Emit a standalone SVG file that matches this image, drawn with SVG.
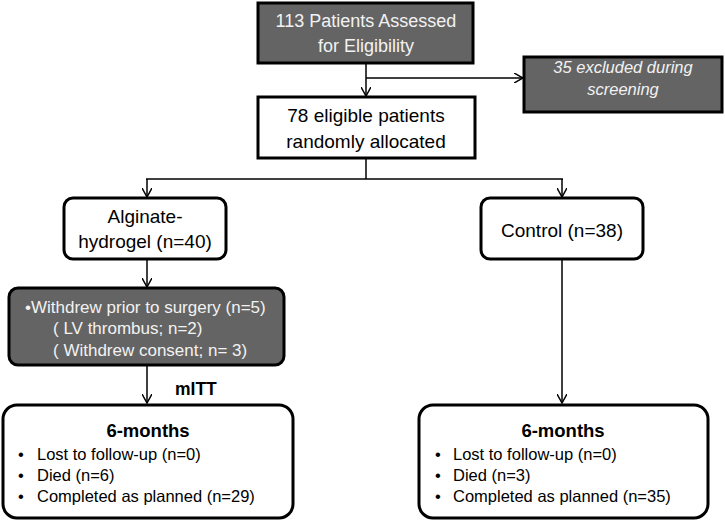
<svg xmlns="http://www.w3.org/2000/svg" width="725" height="522" viewBox="0 0 725 522">
<style>
text{font-family:"Liberation Sans",Arial,sans-serif;fill:#000}
.dark{fill:#646464;stroke:#000;stroke-width:3}
.light{fill:#fff;stroke:#000;stroke-width:3}
.wt{fill:#f2f2f2}
.c{text-anchor:middle}
.ln{stroke:#000;stroke-width:1.5;fill:none}
</style>
<defs>
<marker id="ah" viewBox="0 0 10 10" refX="9" refY="5" markerWidth="10" markerHeight="10" markerUnits="userSpaceOnUse" orient="auto">
<path d="M0,0 L9,5 L0,10" fill="none" stroke="#000" stroke-width="1.5"/>
</marker>
</defs>
<g id="connectors">
<line class="ln" x1="366" y1="63" x2="366" y2="96" marker-end="url(#ah)"/>
<line class="ln" x1="366" y1="78" x2="523" y2="78" marker-end="url(#ah)"/>
<line class="ln" x1="366" y1="158" x2="366" y2="179"/>
<line class="ln" x1="146" y1="179" x2="563" y2="179"/>
<line class="ln" x1="147" y1="179" x2="147" y2="197" marker-end="url(#ah)"/>
<line class="ln" x1="562" y1="179" x2="562" y2="197" marker-end="url(#ah)"/>
<line class="ln" x1="147" y1="259" x2="147" y2="287" marker-end="url(#ah)"/>
<line class="ln" x1="147" y1="365" x2="147" y2="403" marker-end="url(#ah)"/>
<line class="ln" x1="562" y1="259" x2="562" y2="403" marker-end="url(#ah)"/>
</g>
<g id="assessed">
<rect class="dark" x="258" y="3" width="215" height="60"/>
<text class="wt c" x="366" y="27" font-size="18">113 Patients Assessed</text>
<text class="wt c" x="366" y="52" font-size="18">for Eligibility</text>
</g>
<g id="excluded">
<rect class="dark" x="524" y="57" width="198" height="55"/>
<text class="wt c" x="623" y="73" font-size="16.5" font-style="italic">35 excluded during</text>
<text class="wt c" x="623" y="95" font-size="16.5" font-style="italic">screening</text>
</g>
<g id="eligible">
<rect class="light" x="258" y="97" width="217" height="61"/>
<text class="c" x="366" y="122" font-size="19">78 eligible patients</text>
<text class="c" x="366" y="148" font-size="19">randomly allocated</text>
</g>
<g id="alginate">
<rect class="light" x="64" y="198" width="162" height="61" rx="9"/>
<text class="c" x="145" y="223" font-size="19">Alginate-</text>
<text class="c" x="145" y="248" font-size="19">hydrogel (n=40)</text>
</g>
<g id="control">
<rect class="light" x="481" y="198" width="162" height="61" rx="9"/>
<text class="c" x="562" y="237" font-size="19">Control (n=38)</text>
</g>
<g id="withdrew">
<rect class="dark" x="9" y="288" width="275" height="77" rx="9"/>
<text class="wt" x="25" y="313" font-size="17">•Withdrew prior to surgery (n=5)</text>
<text class="wt" x="53" y="334" font-size="17">( LV thrombus; n=2)</text>
<text class="wt" x="53" y="356" font-size="17">( Withdrew consent; n= 3)</text>
</g>
<g id="mitt">
<text x="175" y="395" font-size="17.5" font-weight="bold">mITT</text>
</g>
<g id="left-outcome">
<rect class="light" x="3" y="405" width="290" height="113" rx="14"/>
<text class="c" x="148" y="437" font-size="18.5" font-weight="bold">6-months</text>
<text x="18" y="460" font-size="16.5">•</text>
<text x="37" y="460" font-size="16.5">Lost to follow-up (n=0)</text>
<text x="18" y="481" font-size="16.5">•</text>
<text x="37" y="481" font-size="16.5">Died (n=6)</text>
<text x="18" y="502" font-size="16.5">•</text>
<text x="37" y="502" font-size="16.5">Completed as planned (n=29)</text>
</g>
<g id="right-outcome">
<rect class="light" x="419" y="405" width="289" height="113" rx="14"/>
<text class="c" x="563" y="437" font-size="18.5" font-weight="bold">6-months</text>
<text x="435" y="460" font-size="16.5">•</text>
<text x="453" y="460" font-size="16.5">Lost to follow-up (n=0)</text>
<text x="435" y="481" font-size="16.5">•</text>
<text x="453" y="481" font-size="16.5">Died (n=3)</text>
<text x="435" y="502" font-size="16.5">•</text>
<text x="453" y="502" font-size="16.5">Completed as planned (n=35)</text>
</g>
</svg>
